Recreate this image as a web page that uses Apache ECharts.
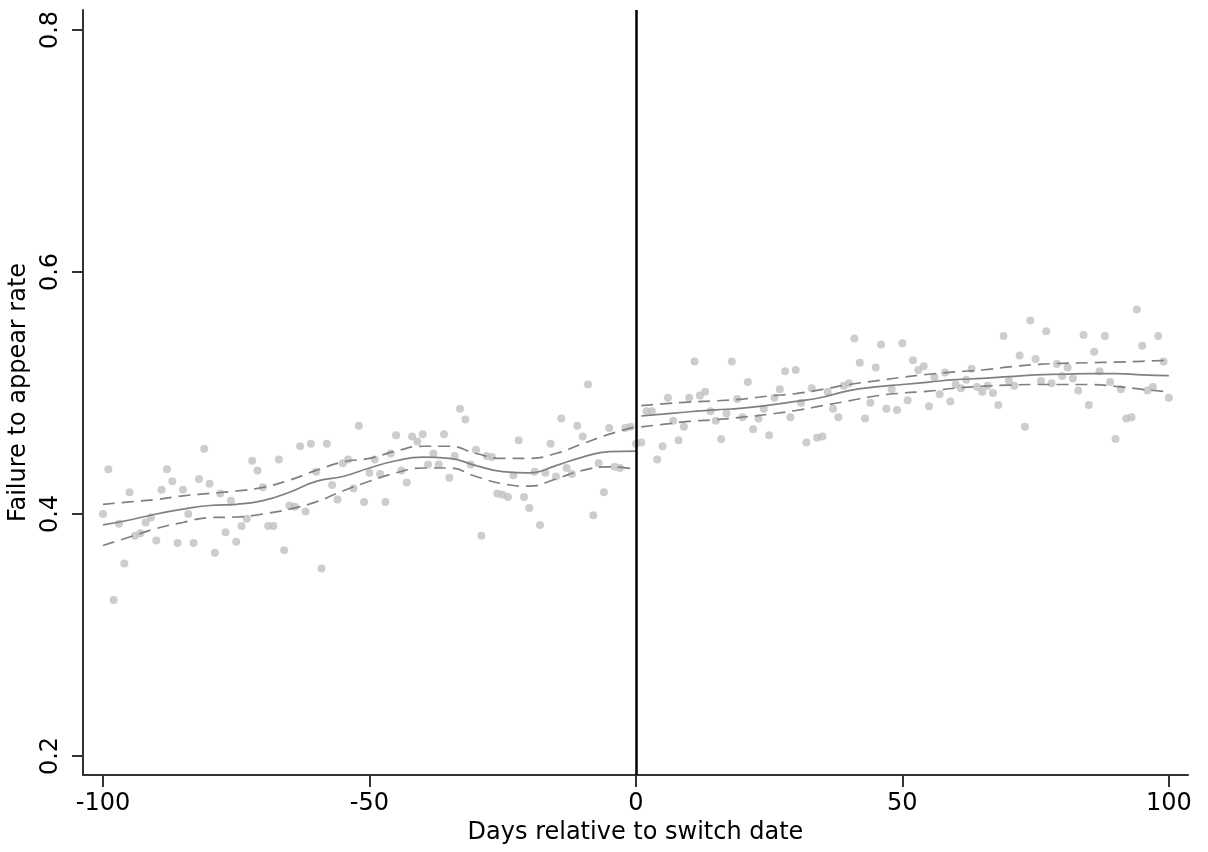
<!DOCTYPE html>
<html>
<head>
<meta charset="utf-8">
<script src="https://cdn.jsdelivr.net/npm/echarts@6/dist/echarts.min.js"></script>
<style>html,body{margin:0;padding:0;background:#fff}#c{width:1208px;height:852px}</style>
</head>
<body>
<div id="c"></div>
<script>
// Scatter: days relative to switch date and failure-to-appear rate
const days = [];
for (let d = -100; d <= 100; d++) days.push(d);
const rates = [
0.400,0.437,0.329,0.392,0.359,0.418,0.382,0.384,0.393,0.397,
0.378,0.420,0.437,0.427,0.376,0.420,0.400,0.376,0.429,0.454,
0.425,0.368,0.417,0.385,0.411,0.377,0.390,0.396,0.444,0.436,
0.422,0.390,0.390,0.445,0.370,0.407,0.406,0.456,0.402,0.458,
0.435,0.355,0.458,0.424,0.412,0.442,0.445,0.421,0.473,0.410,
0.434,0.445,0.433,0.410,0.450,0.465,0.436,0.426,0.464,0.460,
0.466,0.441,0.450,0.441,0.466,0.430,0.448,0.487,0.478,0.441,
0.453,0.382,0.448,0.447,0.417,0.416,0.414,0.432,0.461,0.414,
0.405,0.435,0.391,0.434,0.458,0.431,0.479,0.438,0.433,0.473,
0.464,0.507,0.399,0.442,0.418,0.471,0.439,0.438,0.471,0.472,
0.458,
0.459,0.485,0.485,0.445,0.456,0.496,0.477,0.461,0.472,0.496,
0.526,0.498,0.501,0.485,0.477,0.462,0.483,0.526,0.495,0.480,
0.509,0.470,0.479,0.487,0.465,0.496,0.503,0.518,0.480,0.519,
0.492,0.459,0.504,0.463,0.464,0.501,0.487,0.480,0.506,0.508,
0.545,0.525,0.479,0.492,0.521,0.540,0.487,0.503,0.486,0.541,
0.494,0.527,0.519,0.522,0.489,0.513,0.499,0.517,0.493,0.507,
0.504,0.511,0.520,0.505,0.501,0.506,0.500,0.490,0.547,0.510,
0.506,0.531,0.472,0.560,0.528,0.510,0.551,0.508,0.524,0.514,
0.521,0.512,0.502,0.548,0.490,0.534,0.518,0.547,0.509,0.462,
0.503,0.479,0.480,0.569,0.539,0.502,0.505,0.547,0.526,0.496
];

// Fitted lines (left of switch)
const leftDays  = [-100,-95,-90,-85,-80,-75,-70,-65,-60,-55,-50,-45,-40,-35,-30,-25,-20,-15,-10,-5,0];
const leftFit   = [0.391,0.395,0.400,0.404,0.407,0.408,0.411,0.418,0.427,0.431,0.438,0.444,0.447,0.446,0.440,0.435,0.434,0.440,0.447,0.4515,0.452];
const leftUpper = [0.408,0.410,0.412,0.415,0.417,0.419,0.422,0.428,0.436,0.443,0.446,0.452,0.456,0.456,0.450,0.446,0.446,0.450,0.458,0.466,0.472];
const leftLower = [0.374,0.381,0.388,0.393,0.397,0.3975,0.400,0.404,0.410,0.419,0.427,0.434,0.438,0.438,0.431,0.425,0.423,0.429,0.436,0.439,0.437];

// Fitted lines (right of switch)
const rightDays  = [1,5,10,15,20,25,30,35,40,45,50,55,60,65,70,75,80,85,90,95,100];
const rightFit   = [0.481,0.4825,0.4845,0.486,0.4875,0.490,0.493,0.4965,0.502,0.505,0.507,0.509,0.511,0.512,0.5135,0.515,0.5155,0.516,0.516,0.515,0.5143];
const rightUpper = [0.4895,0.491,0.4925,0.4935,0.495,0.4975,0.4995,0.503,0.507,0.510,0.513,0.5155,0.5175,0.519,0.5215,0.5235,0.5245,0.525,0.5255,0.5262,0.527];
const rightLower = [0.472,0.474,0.4765,0.478,0.480,0.4825,0.4855,0.4895,0.4935,0.4975,0.500,0.5015,0.504,0.5055,0.5065,0.507,0.507,0.507,0.5055,0.503,0.501];

const xTicks = [-100,-50,0,50,100];
const yTicks = [0.2,0.4,0.6,0.8];

const zip = (a,b) => a.map((v,i)=>[v,b[i]]);
const FONT = 'DejaVu Sans';
const lineGray = '#808080';

function fitLine(xs, ys, dashed) {
  return {
    type: 'line', data: zip(xs, ys), smooth: true, showSymbol: false, symbol: 'none',
    lineStyle: { color: lineGray, width: 1.7, type: dashed ? [12, 7] : 'solid' },
    z: 3, silent: true
  };
}

const chart = echarts.init(document.getElementById('c'), null, {renderer: 'canvas'});
chart.setOption({
  animation: false,
  backgroundColor: '#fff',
  grid: { left: 83, right: 20, top: 10, bottom: 77, containLabel: false, outerBoundsMode: 'none' },
  xAxis: {
    type: 'value', min: -103.75, max: 103.6,
    name: 'Days relative to switch date', nameLocation: 'middle', nameGap: 45,
    nameTextStyle: { fontFamily: FONT, fontSize: 24, color: '#000' },
    axisLine: { show: true, onZero: false, lineStyle: { color: '#333', width: 2 } },
    axisTick: { show: true, length: 12, customValues: xTicks, lineStyle: { color: '#333', width: 2 } },
    axisLabel: { customValues: xTicks, fontFamily: FONT, fontSize: 24, color: '#000', margin: 17 },
    splitLine: { show: false }
  },
  yAxis: {
    type: 'value', min: 0.1843, max: 0.8165,
    name: 'Failure to appear rate', nameLocation: 'middle', nameGap: 46, nameRotate: 90,
    nameTextStyle: { fontFamily: FONT, fontSize: 24, color: '#000' },
    axisLine: { show: true, onZero: false, lineStyle: { color: '#333', width: 2 } },
    axisTick: { show: true, length: 11, customValues: yTicks, lineStyle: { color: '#333', width: 2 } },
    axisLabel: { customValues: yTicks, rotate: 90, fontFamily: FONT, fontSize: 24, color: '#000', margin: 20,
                 formatter: v => v.toFixed(1) },
    splitLine: { show: false }
  },
  series: [
    { type: 'scatter', data: zip(days, rates), symbolSize: 8,
      itemStyle: { color: '#c0c0c0' }, z: 2,
      markLine: { silent: true, symbol: 'none', label: { show: false },
        lineStyle: { color: '#000', width: 2.5, type: 'solid' },
        data: [{ xAxis: 0 }] } },
    fitLine(leftDays, leftFit, false),
    fitLine(leftDays, leftUpper, true),
    fitLine(leftDays, leftLower, true),
    fitLine(rightDays, rightFit, false),
    fitLine(rightDays, rightUpper, true),
    fitLine(rightDays, rightLower, true)
  ]
});
</script>
</body>
</html>
